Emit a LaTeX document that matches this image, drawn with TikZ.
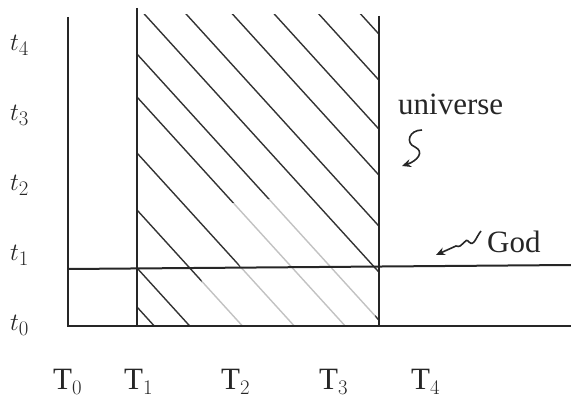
\documentclass[tikz,border=0pt]{standalone}
\usepackage{fontspec}
\setmainfont{Liberation Serif}
\usetikzlibrary{arrows.meta}
\begin{document}
\begin{tikzpicture}[x=1pt,y=-1pt,
  axis/.style={line width=2pt,black!85},
  hatch/.style={line width=1.4pt,black!80},
  lbl/.style={inner sep=0pt,anchor=base west,text=black!85,font=\fontsize{31}{36}\selectfont},
  squig/.style={line width=1.6pt,black!85,-{Stealth[length=9pt,width=8pt]}}]
\useasboundingbox (0,0) rectangle (571,398);
% hatching inside the universe region
\begin{scope}
  \clip (137,15) rectangle (379,326);
  \foreach \b in {-232,-186,-137,-91,-40,6,54,97,153,210,268,307}
    \draw[hatch] (137,\b) -- (437,\b+330);
\end{scope}
% faded part of the hatching (scan)
\fill[white,opacity=0.7] (200,326) -- (202,270) -- (242,271) -- (215,205) -- (300,196) -- (372,276) -- (376,326) -- cycle;
% axes and world lines
\coordinate (a0t) at (68,17);
\coordinate (a0b) at (68,326);
\coordinate (a1t) at (137,8);
\coordinate (a1b) at (137,326);
\coordinate (a3t) at (379,16);
\coordinate (a3b) at (379,326);
\coordinate (br) at (571,326);
\coordinate (gl) at (68,269);
\coordinate (gr) at (571,265);
\draw[axis] (a0t) -- (a0b) -- (br);
\draw[axis] (a1t) -- (a1b);
\draw[axis] (a3t) -- (a3b);
\draw[axis] (gl) -- (gr);
% time labels
\node[lbl] (t4) at (10,51) {$t_4$};
\node[lbl] (t3) at (10,121) {$t_3$};
\node[lbl] (t2) at (10,191) {$t_2$};
\node[lbl] (t1) at (10,261) {$t_1$};
\node[lbl] (t0) at (10,331) {$t_0$};
\node[lbl] (T0) at (53,390) {T$_0$};
\node[lbl] (T1) at (124,390) {T$_1$};
\node[lbl] (T2) at (221,390) {T$_2$};
\node[lbl] (T3) at (319,390) {T$_3$};
\node[lbl] (T4) at (411,390) {T$_4$};
% annotations
\node[lbl] (univ) at (398,115) {universe};
\node[lbl] (god) at (487,253) {God};
\coordinate (us) at (422,130);
\coordinate (ue) at (402,166);
\draw[squig] (us) .. controls (409,130) and (405,143) .. (415,147)
  .. controls (425,152) and (417,161) .. (ue);
\coordinate (gs) at (481,231);
\coordinate (ge) at (436,255);
\draw[squig] (gs) .. controls (476,237) and (474,247) .. (469,242)
  .. controls (465,236) and (463,249) .. (456,246) -- (ge);
\end{tikzpicture}
\end{document}
